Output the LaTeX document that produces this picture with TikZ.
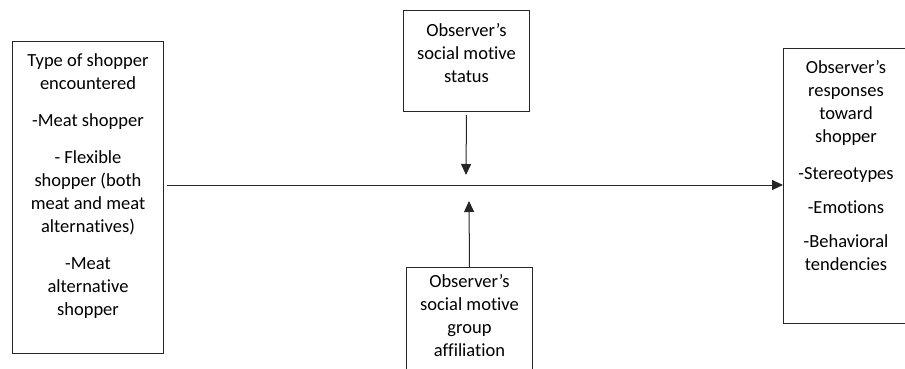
\documentclass[tikz,border=0pt]{standalone}
\usepackage{fontspec}
\setmainfont[Ligatures=NoCommon]{Carlito}
\usepackage{tikz}
\usetikzlibrary{positioning}
\usetikzlibrary{arrows.meta}
\tikzstyle{arrow}=[-{Triangle[length=11pt,width=10pt]},shorten <=3pt]
\tikzstyle{box}=[draw,rectangle,inner sep=0pt]
\tikzstyle{txt}=[align=center,inner sep=0pt,font=\fontsize{18.5}{23}\selectfont]
\tikzset{every picture/.style={
    line width=1pt,
    draw=black!85
  }
}

\begin{document}
\begin{tikzpicture}[x=1pt,y=-1pt]
            \useasboundingbox (0,0) rectangle (905,369);
            \node[box,minimum width=151,minimum height=312,anchor=north west] (shopper) at (12,41) {};
            \node[box,minimum width=126,minimum height=101,anchor=north west] (status) at (403,10) {};
            \node[box,minimum width=126,minimum height=140,anchor=north west] (group) at (406,267) {};
            \node[box,minimum width=125,minimum height=275,anchor=north west] (responses) at (783,48) {};
            \node[txt,below=12pt of shopper.north] (shoppertxt) {Type of shopper\\encountered\\[14pt]-Meat shopper\\[14pt]- Flexible\\shopper (both\\meat and meat\\alternatives)\\[14pt]-Meat\\alternative\\shopper};
            \node[txt,below=13pt of status.north] (statustxt) {Observer’s\\social motive\\status};
            \node[txt,below=7pt of group.north] (grouptxt) {Observer’s\\social motive\\group\\affiliation};
            \node[txt,below=12pt of responses.north] (responsestxt) {Observer’s\\responses\\toward\\shopper\\[14pt]-Stereotypes\\[11pt]-Emotions\\[11pt]-Behavioral\\tendencies};
            \coordinate (join) at (responses.west |- 0,185);
            \coordinate (start) at (shopper.east |- join);
            \coordinate (topjoin) at (466,175);
            \coordinate (bottomjoin) at (469,201);
            \draw[arrow] (start) -- (join);
            \draw[arrow] (status.south) -- (topjoin);
            \draw[arrow,shorten <=0pt] (group.north) -- (bottomjoin);
          \end{tikzpicture}
\end{document}
